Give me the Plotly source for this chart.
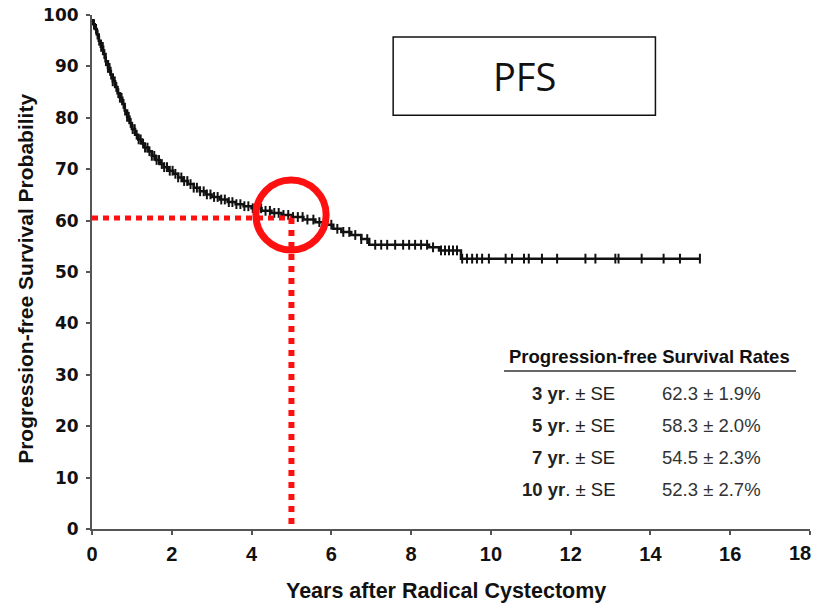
import plotly.graph_objects as go

# Kaplan-Meier step curve: time (years) and progression-free survival (%)
km_time = [0, 0.03, 0.07, 0.12, 0.17, 0.22, 0.28, 0.34, 0.40, 0.46, 0.52, 0.58,
           0.64, 0.70, 0.76, 0.82, 0.88, 0.94, 1.00, 1.08, 1.16, 1.24, 1.32, 1.40,
           1.50, 1.60, 1.70, 1.80, 1.92, 2.04, 2.16, 2.28, 2.40, 2.55, 2.70, 2.85,
           3.00, 3.20, 3.40, 3.60, 3.80, 4.00, 4.25, 4.50, 4.75, 5.00, 5.30, 5.60,
           5.85, 6.05, 6.25, 6.50, 6.75, 6.95, 8.45, 8.70, 9.25, 15.25]
km_surv = [99.0, 98.2, 97.3, 96.2, 95.0, 93.8, 92.4, 91.0, 89.7, 88.4, 87.1, 86.0,
           84.8, 83.9, 82.7, 81.4, 80.2, 79.0, 77.8, 76.7, 75.8, 75.0, 74.2, 73.5,
           72.6, 71.8, 71.0, 70.4, 69.7, 69.1, 68.4, 67.7, 67.1, 66.4, 65.7, 65.1,
           64.6, 64.1, 63.6, 63.2, 62.8, 62.4, 61.9, 61.5, 61.1, 60.7, 60.2, 59.7,
           59.2, 58.4, 57.8, 57.2, 56.4, 55.3, 54.8, 54.2, 52.6, 52.6]

# Censoring times (years)
censor_time = [0.05, 0.10, 0.14, 0.18, 0.23, 0.27, 0.31, 0.35, 0.40, 0.44, 0.48, 0.52,
               0.57, 0.61, 0.66, 0.70, 0.74, 0.79, 0.83, 0.88, 0.92, 0.97, 1.02, 1.07,
               1.12, 1.17, 1.22, 1.28, 1.33, 1.39, 1.44, 1.50, 1.56, 1.62, 1.68, 1.75,
               1.81, 1.88, 1.95, 2.02, 2.09, 2.16, 2.24, 2.31, 2.39, 2.47, 2.55, 2.63,
               2.71, 2.80, 2.88, 2.97, 3.06, 3.15, 3.24, 3.33, 3.43, 3.52, 3.62, 3.72,
               3.82, 3.92, 4.03, 4.13, 4.24, 4.35, 4.46, 4.57, 4.68, 4.80, 4.92, 5.04,
               5.16, 5.28, 5.40, 5.55, 5.70, 5.85, 6.00, 6.15, 6.30, 6.45, 6.60, 6.75,
               6.90, 7.10, 7.25, 7.40, 7.60, 7.80, 7.95, 8.10, 8.25, 8.40, 8.55, 8.75,
               8.85, 8.95, 9.05, 9.15, 9.28, 9.40, 9.53, 9.65, 9.78, 9.95, 10.37, 10.53,
               10.83, 10.95, 11.28, 11.66, 12.37, 12.62, 13.12, 13.20, 13.78, 14.33,
               14.74, 15.24]

# Survival rate table
rate_years = ["3", "5", "7", "10"]
rate_values = ["62.3 ± 1.9%", "58.3 ± 2.0%", "54.5 ± 2.3%", "52.3 ± 2.7%"]

x_ticks = [0, 2, 4, 6, 8, 10, 12, 14, 16, 18]
y_ticks = [0, 10, 20, 30, 40, 50, 60, 70, 80, 90, 100]

# Highlighted landmark
mark_year = 5
mark_level = 60.5


def surv_at(t):
    s = km_surv[0]
    for ti, si in zip(km_time, km_surv):
        if ti <= t:
            s = si
    return s


censor_surv = [surv_at(t) for t in censor_time]

fig = go.Figure()

fig.add_trace(go.Scatter(
    x=km_time, y=km_surv, mode="lines",
    line=dict(color="#111111", width=2.5, shape="hv"),
    hoverinfo="skip", showlegend=False))

fig.add_trace(go.Scatter(
    x=censor_time, y=censor_surv, mode="markers",
    marker=dict(symbol="line-ns", size=7, line=dict(color="#111111", width=2)),
    hoverinfo="skip", showlegend=False))

# Red dotted guide lines to the 5-year landmark
red = "#ff1010"
fig.add_shape(type="line", xref="x", yref="y", x0=0, x1=mark_year,
              y0=mark_level, y1=mark_level,
              line=dict(color=red, width=5, dash="6px,5px"))
fig.add_shape(type="line", xref="x", yref="y", x0=mark_year, x1=mark_year,
              y0=mark_level, y1=0,
              line=dict(color=red, width=6, dash="6px,6px"))

# Circle around the landmark
fig.add_shape(type="circle", xref="x", yref="y",
              x0=4.11, x1=5.87, y0=54.3, y1=67.9,
              line=dict(color=red, width=7))

# PFS label box
fig.add_shape(type="rect", xref="x", yref="y",
              x0=7.55, x1=14.125, y0=80.5, y1=95.7,
              line=dict(color="#111111", width=1.5), fillcolor="white")
fig.add_annotation(x=10.83, y=88.1, xref="x", yref="y", text="PFS",
                   showarrow=False, xanchor="center", yanchor="middle",
                   font=dict(family="Open Sans", size=38, color="#111111"))

# Survival rate table
fig.add_annotation(x=13.975, y=33.5, xref="x", yref="y",
                   text="<b>Progression-free Survival Rates</b>",
                   showarrow=False, xanchor="center", yanchor="middle",
                   font=dict(family="Liberation Sans", size=18.5, color="#111111"))
fig.add_shape(type="line", xref="x", yref="y", x0=10.33, x1=17.65,
              y0=30.75, y1=30.75, line=dict(color="#666666", width=2))
row_y = [26.45, 20.2, 14.0, 7.6]
for yr, val, yy in zip(rate_years, rate_values, row_y):
    fig.add_annotation(x=13.15, y=yy, xref="x", yref="y", xanchor="right",
                       yanchor="middle",
                       text=f"<b>{yr} yr</b>. ± SE", showarrow=False,
                       font=dict(family="Liberation Sans", size=18.5, color="#222222"))
    fig.add_annotation(x=14.25, y=yy, xref="x", yref="y", xanchor="left",
                       yanchor="middle",
                       text=val, showarrow=False,
                       font=dict(family="Liberation Sans", size=18.5, color="#333333"))

# Axis titles
fig.add_annotation(x=0.493, y=-0.121, xref="paper", yref="paper",
                   xanchor="center", yanchor="middle",
                   text="<b>Years after Radical Cystectomy</b>", showarrow=False,
                   font=dict(family="Liberation Sans", size=21.5, color="#111111"))
fig.add_annotation(x=-0.0917, y=0.487, xref="paper", yref="paper", textangle=-90,
                   xanchor="center", yanchor="middle",
                   text="<b>Progression-free Survival Probability</b>", showarrow=False,
                   font=dict(family="Liberation Sans", size=21, color="#111111"))

# The last x tick label sits at the right edge; keep it fully inside the page
x_tick_text = [str(v) for v in x_ticks]
last_label = x_tick_text[-1]
x_tick_text[-1] = ""
tick_font_x = dict(family="Liberation Sans", size=20, color="#111111", weight="bold")
fig.add_annotation(x=x_ticks[-1], y=0, xref="x", yref="y",
                   xanchor="right", yanchor="top", yshift=-11, xshift=3,
                   text=last_label, showarrow=False, font=tick_font_x)

axis_color = "#555555"
fig.update_xaxes(range=[0, 18], tickvals=x_ticks, ticktext=x_tick_text,
                 showline=True, linecolor=axis_color, linewidth=2,
                 ticks="outside", ticklen=4, tickwidth=2, tickcolor=axis_color,
                 showgrid=False, zeroline=False, ticklabelstandoff=2,
                 ticklabeloverflow="allow", automargin=False,
                 tickfont=tick_font_x)
fig.update_yaxes(range=[0, 100], tickvals=y_ticks, ticktext=[str(v) for v in y_ticks],
                 showline=True, linecolor=axis_color, linewidth=2,
                 ticks="outside", ticklen=4, tickwidth=2, tickcolor=axis_color,
                 showgrid=False, zeroline=False, ticklabelstandoff=4,
                 automargin=False,
                 tickfont=dict(family="DejaVu Sans", size=17, color="#111111",
                               weight="bold"))

fig.update_layout(width=813, height=605,
                  margin=dict(l=92, r=3, t=15, b=76, autoexpand=False),
                  paper_bgcolor="white", plot_bgcolor="white")

fig.write_html("out.html")
